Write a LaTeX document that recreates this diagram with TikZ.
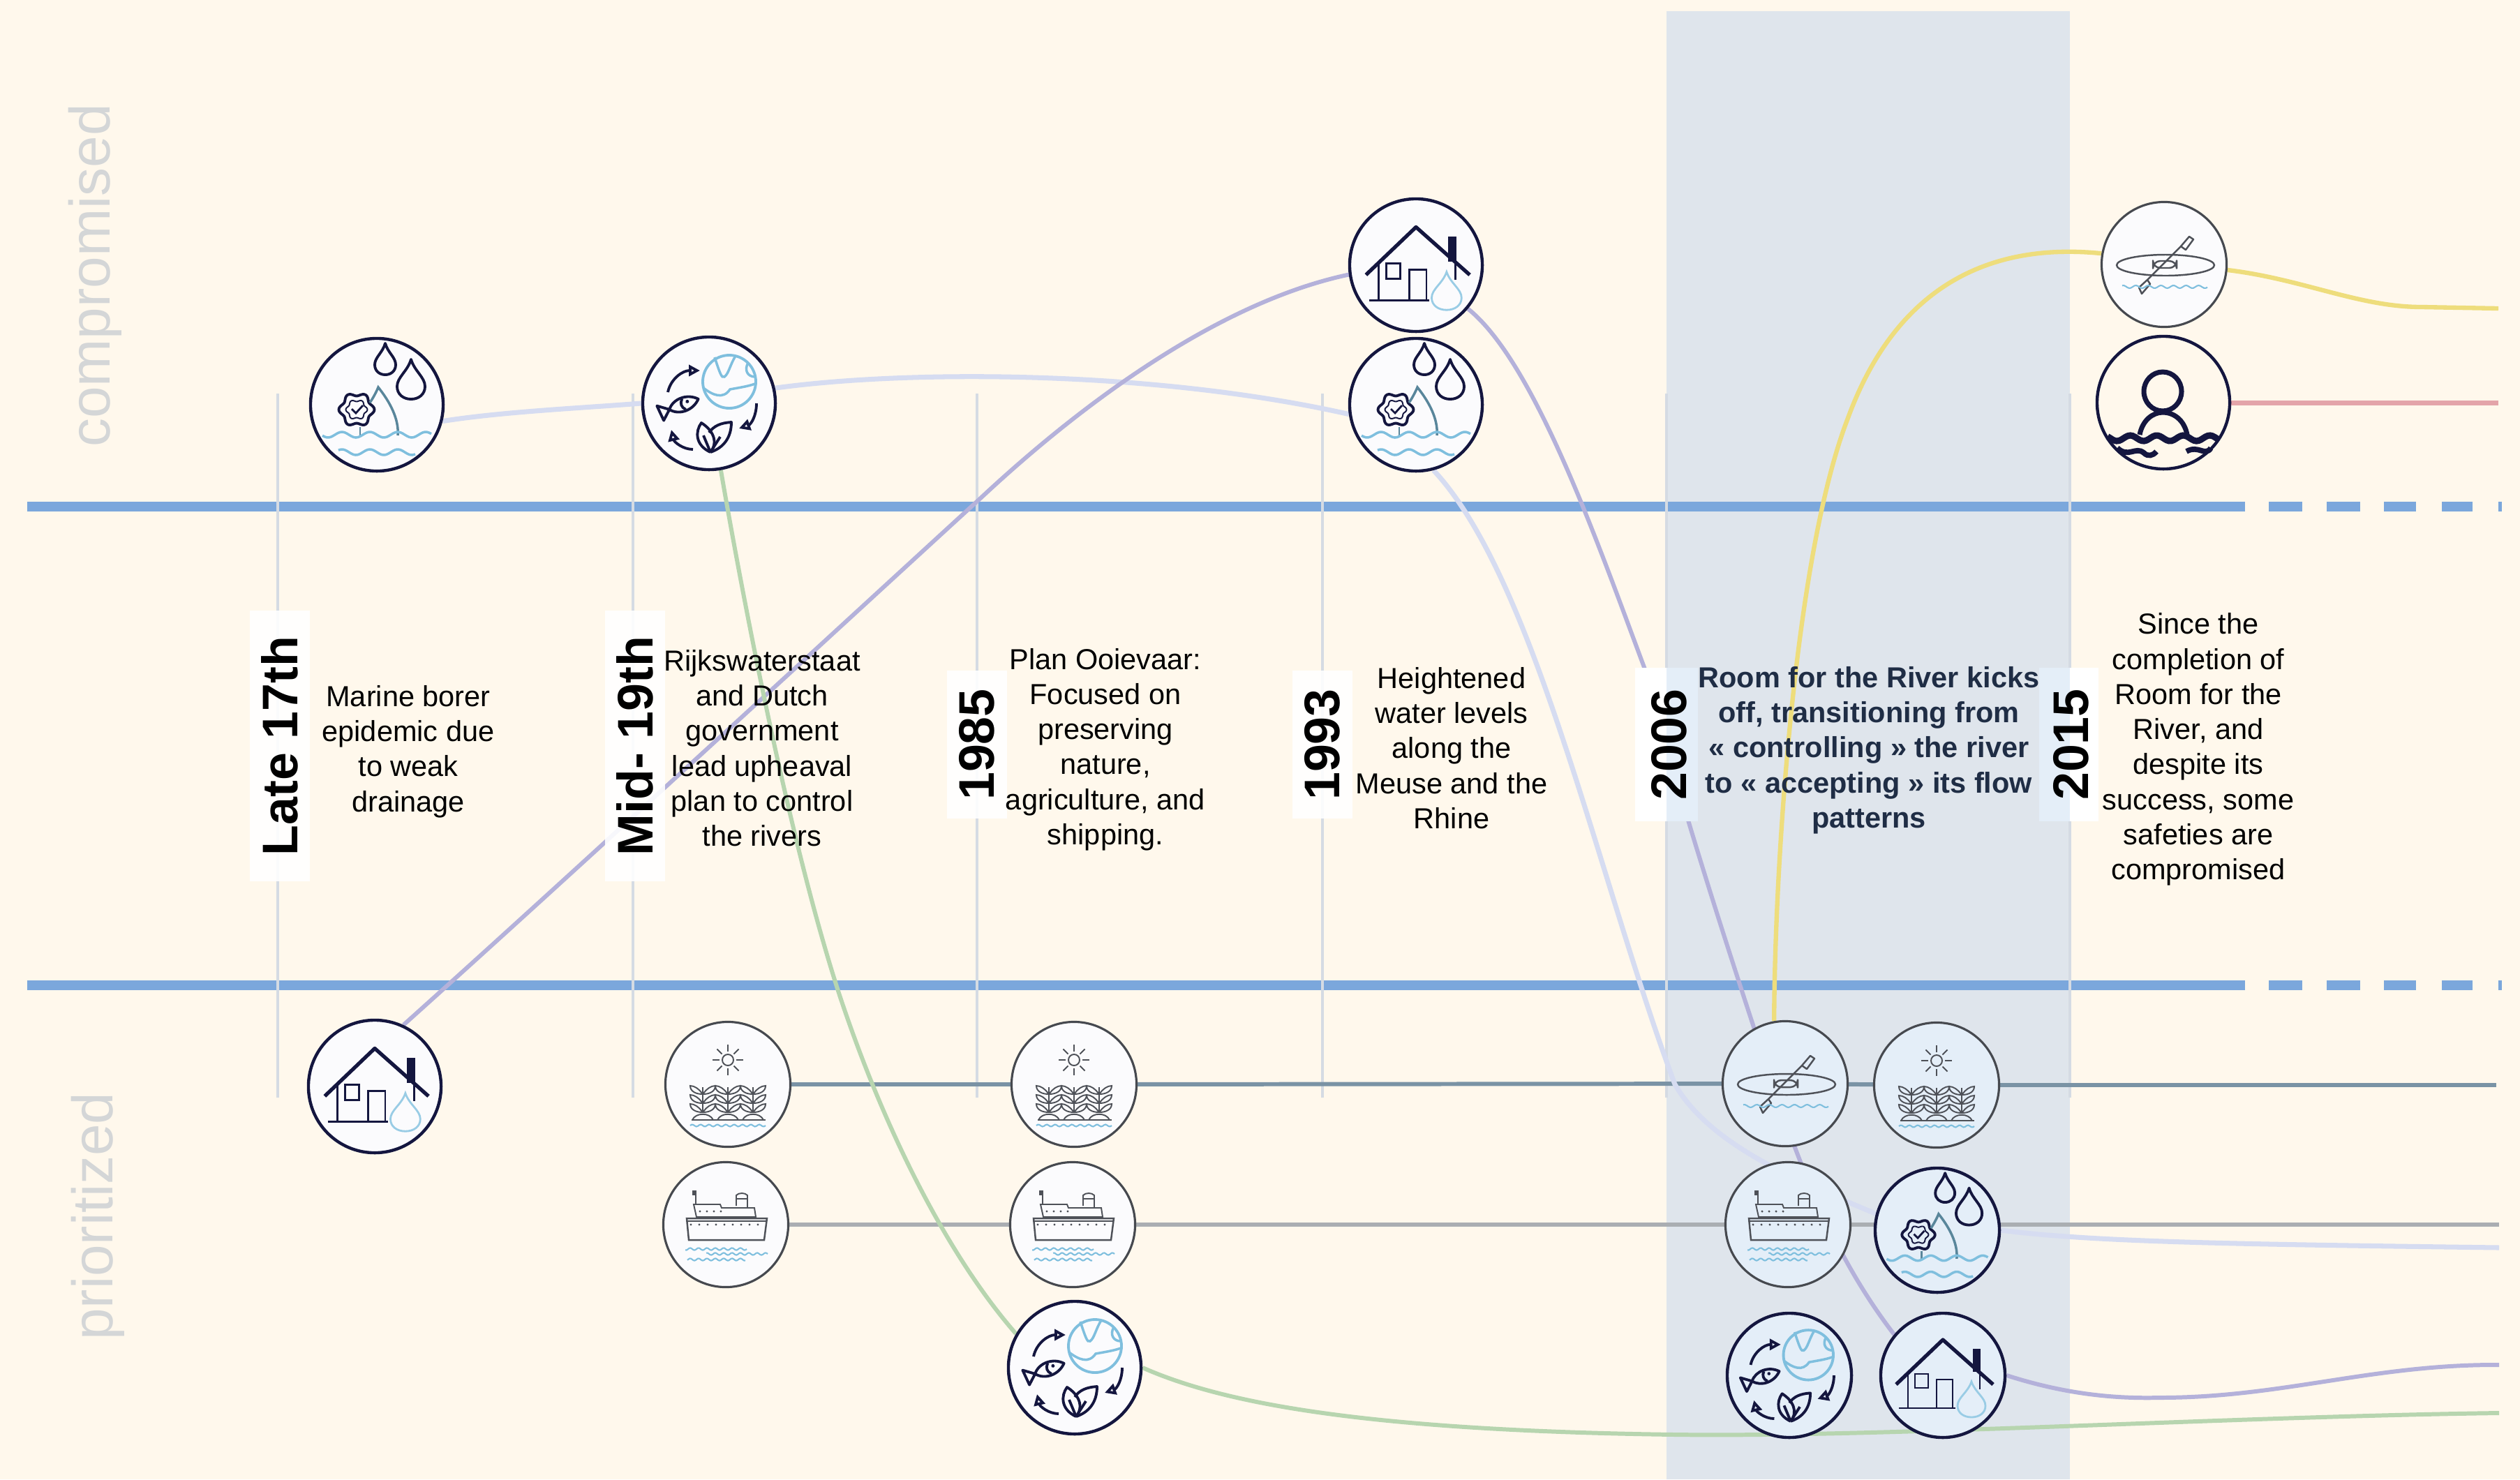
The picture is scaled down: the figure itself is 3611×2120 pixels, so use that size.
\documentclass[tikz,border=0pt]{standalone}
\usepackage{fontspec}
\setmainfont{Liberation Sans}
\usetikzlibrary{arrows.meta}
\definecolor{pagebg}{HTML}{FFF8EC}
\definecolor{bandc}{HTML}{DFE5EC}
\definecolor{bluel}{HTML}{7BA7DC}
\definecolor{vline}{HTML}{D5DBE3}
\definecolor{navy}{HTML}{14163F}
\definecolor{inkg}{HTML}{4E5158}
\definecolor{water}{HTML}{7FBFDE}
\definecolor{rosec}{HTML}{D6DCF1}
\definecolor{purplec}{HTML}{B4B1DA}
\definecolor{greenc}{HTML}{B7D5AF}
\definecolor{yellowc}{HTML}{EEDD7C}
\definecolor{redc}{HTML}{E3A4A9}
\definecolor{fieldc}{HTML}{7A93A5}
\definecolor{shipc}{HTML}{AAAEB2}
\definecolor{sidec}{HTML}{D4D6D7}
\definecolor{bandtext}{HTML}{1F2D45}
\definecolor{iconw}{HTML}{FBFBFD}
\definecolor{iconb}{HTML}{E4EEF8}
\colorlet{ink}{navy}
\pgfdeclarelayer{bandlayer}
\pgfdeclarelayer{lines}
\pgfsetlayers{bandlayer,lines,main}
\newcommand{\iwave}[6][]{\draw[#1] plot[domain=#2:#3,samples=50,smooth] (\x,{#4+#5*sin(360*(\x/#6))});}
\newcommand{\idrop}[5][]{\draw[#1] (#2,#3) .. controls ({#2-.25*#5},{#3+.3*(#4-#3)}) and ({#2-#5},{#3+.45*(#4-#3)}) .. ({#2-#5},{#3+.68*(#4-#3)})
  .. controls ({#2-#5},{#3+.88*(#4-#3)}) and ({#2-.55*#5},#4) .. (#2,#4)
  .. controls ({#2+.55*#5},#4) and ({#2+#5},{#3+.88*(#4-#3)}) .. ({#2+#5},{#3+.68*(#4-#3)})
  .. controls ({#2+#5},{#3+.45*(#4-#3)}) and ({#2+.25*#5},{#3+.3*(#4-#3)}) .. (#2,#3) -- cycle;}
\newcommand{\iplant}[1]{\begin{scope}[shift={(#1,0)}]
  \draw[thinink] (0,4) -- (0,40);
  \draw[thinink] (-15,51) .. controls (-10,40) and (10,40) .. (15,51);
  \foreach \yy in {2,15,28}{
    \draw[thinink] (0,\yy+12) .. controls (-6,\yy+4) and (-12,\yy) .. (-18,\yy) .. controls (-18,\yy+8) and (-10,\yy+12) .. (0,\yy+12);
    \draw[thinink] (0,\yy+12) .. controls (6,\yy+4) and (12,\yy) .. (18,\yy) .. controls (18,\yy+8) and (10,\yy+12) .. (0,\yy+12);
  }
\end{scope}}
\tikzset{
  x=0.01cm, y=-0.01cm,
  inkgrey/.code={\colorlet{ink}{inkg}},
  icon/.style={circle,inner sep=0pt,minimum size=1.9cm,draw=navy,line width=1.25pt,fill=#1},
  icon/.default={iconw},
  iconthin/.style={circle,inner sep=0pt,minimum size=1.79cm,draw=inkg!90!black,line width=.9pt,fill=#1},
  iconthin/.default={iconw},
  thinink/.style={draw=ink,line width=.55pt},
  midink/.style={draw=ink,line width=1.1pt,line join=round},
  waterl/.style={draw=water,line width=1pt},
  waterthin/.style={draw=water,line width=.6pt},
  rosel/.style={draw=rosec,line width=2pt},
  purplel/.style={draw=purplec,line width=1.7pt},
  greenl/.style={draw=greenc,line width=1.7pt},
  yellowl/.style={draw=yellowc,line width=1.8pt},
  redl/.style={draw=redc,line width=2pt},
  fieldl/.style={draw=fieldc,line width=1.7pt},
  shipl/.style={draw=shipc,line width=1.5pt},
  blueline/.style={draw=bluel,line width=4pt},
  timeline/.style={draw=vline,line width=.9pt},
  yearbox/.style={rotate=90,fill=white,fill opacity=.9,text opacity=1,font=\fontsize{20.4}{24}\selectfont\bfseries,text=black,inner sep=0pt,minimum height=.86cm,minimum width=#1},
  yeartext/.style={rotate=90,font=\fontsize{20.4}{24}\selectfont\bfseries,text=black,inner sep=0pt},
  caption/.style={align=center,text=black,font=\fontsize{11.8}{14.3}\selectfont,inner sep=0pt},
  bandcaption/.style={align=center,text=bandtext,font=\fontsize{11.8}{14.3}\selectfont\bfseries,inner sep=0pt},
  sidelabel/.style={rotate=90,text=sidec,font=\fontsize{23.3}{28}\selectfont,inner sep=0pt},
  pics/rosepic/.style={code={
    \idrop[midink]{12}{-88}{-43}{15}
    \idrop[midink]{49}{-65}{-8}{20}
    \draw[midink] plot[domain=0:360,samples=73] ({(23+2.5*cos(6*\x))*cos(\x)-29},{(22+2.5*cos(6*\x))*sin(\x)+7}) -- cycle;
    \draw[thinink] plot[domain=0:360,samples=73] ({(14+1.5*cos(6*\x))*cos(\x)-29},{(13+1.5*cos(6*\x))*sin(\x)+7}) -- cycle;
    \draw[thinink,line width=.8pt] (-36,6) -- (-30,12) -- (-20,1);
    \draw[draw=water!70!black,line width=.8pt] (-24,32) -- (-24,44);
    \draw[draw=water!70!black,line width=1pt] (-10,-3) .. controls (-5,-10) and (0,-20) .. (2,-25) .. controls (18,-5) and (32,20) .. (30,44);
    \iwave[waterl]{-78}{78}{43}{4}{40}
    \iwave[waterl]{-55}{55}{68}{4}{40}
  }},
  pics/ecopic/.style={code={
    \draw[waterl,line width=1.1pt] (29,-31) circle (38);
    \draw[waterl] (8,-66) .. controls (15,-45) and (18,-35) .. (22,-38) .. controls (28,-42) and (30,-55) .. (38,-68);
    \draw[waterl] (-8,-22) .. controls (5,-12) and (20,-5) .. (30,-20) .. controls (40,-22) and (55,-24) .. (66,-28);
    \draw[waterl] (56,-58) .. controls (50,-48) and (55,-38) .. (66,-38);
    \draw[midink,-{Triangle[open,length=.16cm,width=.16cm]}] (-59,-16) .. controls (-55,-35) and (-38,-47) .. (-13,-47);
    \draw[midink,-{Triangle[open,length=.16cm,width=.16cm]}] (68,0) .. controls (68,18) and (60,30) .. (43,36);
    \draw[midink,-{Triangle[open,length=.16cm,width=.16cm]}] (-23,66) .. controls (-38,66) and (-50,55) .. (-54,38);
    \begin{scope}[shift={(-38,2)},rotate=20]
      \draw[midink] (-20,0) .. controls (-10,-13) and (12,-13) .. (24,0) .. controls (12,13) and (-10,13) .. (-20,0);
      \draw[midink] (-20,0) -- (-35,-11) -- (-33,12) -- cycle;
      \draw[midink] (2,-8) .. controls (-3,-3) and (-3,3) .. (2,8);
      \fill[ink] (8,-2) circle (2.5);
    \end{scope}
    \begin{scope}[shift={(2,70)}]
      \draw[midink] (0,0) .. controls (-22,-10) and (-22,-30) .. (-13,-42) .. controls (3,-32) and (12,-15) .. (0,0);
      \draw[midink] (0,0) .. controls (18,-6) and (30,-20) .. (30,-43) .. controls (15,-42) and (5,-38) .. (-2,-28);
      \draw[midink] (0,0) -- (-10,-24);
      \draw[midink] (0,0) -- (14,-22);
    \end{scope}
  }},
  pics/fieldpic/.style={code={
    \draw[thinink] (0,-35) circle (8);
    \foreach \a in {0,45,...,315}{\draw[thinink] (\a:12) ++(0,-35) -- ++(\a:10);}
    \iplant{-36}\iplant{0}\iplant{36}
    \draw[thinink] (-52,51) -- (54,51);
    \iwave[waterthin]{-54}{54}{59}{1.5}{12}
  }},
  pics/shippic/.style={code={
    \draw[thinink,line width=.7pt] (-56,-9) -- (59,-9) -- (55,22) -- (-53,22) -- cycle;
    \draw[thinink] (-56,-5) -- (59,-5);
    \draw[thinink] (-46,-29) -- (-8,-29) -- (-6,-24) -- (41,-24) -- (43,-11) -- (-42,-11) -- cycle;
    \draw[thinink] (15,-27) -- (15,-42) .. controls (18,-46) and (28,-46) .. (31,-42) -- (31,-24);
    \draw[thinink] (15,-37) -- (31,-37);
    \draw[thinink] (-43,-29) -- (-43,-49);
    \fill[ink] (-48,-49) rectangle (-42,-42);
    \foreach \xx in {-50,-38,...,50}{\fill[ink] (\xx,0) circle (1.7);}
    \foreach \xx in {-37,-27,-17,-7}{\fill[ink] (\xx,-19) circle (1.7);}
    \iwave[waterthin]{-58}{30}{35}{1.6}{12}
    \iwave[waterthin]{-28}{60}{42}{1.6}{12}
    \iwave[waterthin]{-55}{28}{50}{1.6}{12}
  }},
  pics/kayakpic/.style={code={
    \draw[midink,line width=.7pt] (2,1) ellipse (70 and 15);
    \draw[midink,line width=.7pt,rounded corners=3pt] (-16,-5) rectangle (18,5);
    \draw[midink,line width=.7pt] (24,-26) -- (-24,22);
    \draw[midink,line width=.7pt] (24,-26) -- (36,-40) -- (42,-36) -- (31,-21) -- cycle;
    \draw[midink,line width=.7pt] (-24,22) -- (-36,33) -- (-32,42) -- (-20,28) -- cycle;
    \iwave[waterthin]{-60}{62}{32}{2}{18}
  }},
  pics/personpic/.style={code={
    \draw[draw=ink,line width=2pt] (-1,-16) ellipse (27 and 28);
    \draw[draw=ink,line width=2pt] (-34,46) .. controls (-30,25) and (-15,14) .. (-1,14) .. controls (15,14) and (30,25) .. (34,46);
    \iwave[draw=ink,line width=2.6pt]{-80}{80}{51}{4}{38}
    \draw[draw=ink,line width=2.2pt] (-66,65) .. controls (-50,80) and (-40,62) .. (-28,72) .. controls (-22,78) and (-15,76) .. (-10,70);
    \draw[draw=ink,line width=2.2pt] (68,65) .. controls (60,78) and (50,60) .. (33,70);
  }},
  pics/housepic/.style={code={
    \draw[draw=ink,line width=1.5pt,line join=round] (-67,13) -- (0,-51) -- (72,13);
    \fill[ink] (43,-38) rectangle (54,-5);
    \draw[thinink,line width=.8pt] (-50,-2) -- (-50,47);
    \draw[thinink,line width=.8pt] (53,-2) -- (53,20);
    \draw[thinink,line width=.8pt] (-63,47) -- (18,47);
    \draw[thinink,line width=.8pt] (-40,-2) rectangle (-21,18);
    \draw[thinink,line width=.8pt] (-9,47) -- (-9,6) -- (14,6) -- (14,47);
    \idrop[draw=water!80,line width=.8pt]{41}{9}{60}{20}
  }},
}
\begin{document}
\begin{tikzpicture}[x=0.01cm,y=-0.01cm]
\useasboundingbox (0,0) rectangle (3611,2120);

% icons
\node[icon] (rose1) at (540,580) {};
\node[icon] (eco1) at (1016,578) {};
\node[icon] (house1) at (537,1557) {};
\node[icon] (house2) at (2029,380) {};
\node[icon] (rose2) at (2029,580) {};
\node[iconthin] (field1) at (1043,1554) {};
\node[iconthin] (field2) at (1539,1554) {};
\node[iconthin] (ship1) at (1040,1755) {};
\node[iconthin] (ship2) at (1537,1755) {};
\node[icon] (eco2) at (1540,1960) {};
\node[iconthin=iconb] (kayak1) at (2558,1553) {};
\node[iconthin=iconb] (field3) at (2775,1555) {};
\node[iconthin=iconb] (ship3) at (2562,1755) {};
\node[icon=iconb,minimum size=1.78cm] (rose3) at (2776,1763) {};
\node[icon=iconb,minimum size=1.78cm] (eco3) at (2564,1971) {};
\node[icon=iconb,minimum size=1.78cm] (house3) at (2784,1971) {};
\node[iconthin] (kayak2) at (3101,379) {};
\node[icon=pagebg] (person) at (3100,577) {};

\pic at (rose1) {rosepic};
\pic at (eco1) {ecopic};
\pic[scale=1.07] at (house1) {housepic};
\pic[scale=1.07] at (house2) {housepic};
\pic at (rose2) {rosepic};
\pic[inkgrey] at (field1) {fieldpic};
\pic[inkgrey] at (field2) {fieldpic};
\pic[inkgrey] at (ship1) {shippic};
\pic[inkgrey] at (ship2) {shippic};
\pic at (eco2) {ecopic};
\pic[inkgrey] at (kayak1) {kayakpic};
\pic[inkgrey] at (field3) {fieldpic};
\pic[inkgrey] at (ship3) {shippic};
\pic[scale=.93] at (rose3) {rosepic};
\pic[scale=.94] at (eco3) {ecopic};
\pic at (house3) {housepic};
\pic[inkgrey] at (kayak2) {kayakpic};
\pic at (person) {personpic};

% free ends
\coordinate (roseend) at (3581,1788);
\coordinate (purpleend) at (3581,1956);
\coordinate (greenend) at (3581,2025);
\coordinate (yellowend) at (3580,442);
\coordinate (redend) at (3580,577);
\coordinate (fieldend) at (3577,1555);
\coordinate (shipend) at (3581,1755);

\begin{pgfonlayer}{bandlayer}
  \fill[pagebg] (0,0) rectangle (3611,2120);
  \fill[bandc] (2388,16) rectangle (2966,2120);
\end{pgfonlayer}

\begin{pgfonlayer}{lines}
  \draw[blueline] (39,726) -- (3217,726);
  \draw[blueline] (39,1412) -- (3217,1412);
  \foreach \yy in {726,1412}{
    \draw[blueline] (3251,\yy) -- (3299,\yy);
    \draw[blueline] (3334,\yy) -- (3382,\yy);
    \draw[blueline] (3416,\yy) -- (3462,\yy);
    \draw[blueline] (3499,\yy) -- (3543,\yy);
    \draw[blueline] (3580,\yy) -- (3585,\yy);
  }
  \foreach \xx in {398,907,1400,1895,2388,2966}{
    \draw[timeline] (\xx,564) -- (\xx,1573);
  }
  \draw[fieldl] (field1) -- (field2);
  \draw[fieldl] (field2) -- (kayak1);
  \draw[fieldl] (kayak1) -- (field3);
  \draw[fieldl] (field3) -- (fieldend);
  \draw[shipl] (ship1) -- (ship2);
  \draw[shipl] (ship2) -- (ship3);
  \draw[shipl] (ship3) -- (shipend);
  \draw[rosel] (rose1.-14) .. controls (720,590) and (830,585) .. (eco1.180);
  \draw[rosel] (eco1.13) .. controls (1300,530) and (1650,530) .. (rose2.188);
  \draw[rosel] (rose2.-75) .. controls (2200,830) and (2290,1260) .. (2400,1554) .. controls (2450,1640) and (2570,1690) .. (rose3.165);
  \draw[rosel] (rose3.0) .. controls (3000,1780) and (3200,1783) .. (roseend);
  \draw[purplel] (house1.65) .. controls (800,1270) and (1180,920) .. (1405,714) .. controls (1570,560) and (1760,430) .. (house2.188);
  \draw[purplel] (house2.-40) .. controls (2200,520) and (2290,780) .. (2360,967) .. controls (2400,1120) and (2450,1280) .. (2512,1469) .. controls (2570,1650) and (2620,1790) .. (house3.140);
  \draw[purplel] (house3.0) .. controls (2950,1995) and (3020,2005) .. (3095,2003) .. controls (3270,2003) and (3400,1955) .. (purpleend);
  \draw[greenl] (eco1.-80) .. controls (1065,860) and (1130,1200) .. (1201,1420) .. controls (1260,1600) and (1350,1790) .. (eco2.150);
  \draw[greenl] (eco2.0) .. controls (1750,2010) and (1950,2050) .. (2400,2056) .. controls (2700,2060) and (3200,2030) .. (greenend);
  \draw[yellowl] (kayak1.100) .. controls (2543,1250) and (2570,800) .. (2648,599) .. controls (2710,430) and (2830,345) .. (kayak2.170);
  \draw[yellowl] (kayak2.-5) .. controls (3300,400) and (3380,440) .. (3470,440) -- (yellowend);
  \draw[redl] (person) -- (redend);
  % label panels straddling the band edges
  \fill[white] (2343,957) rectangle (2388,1177);
  \fill[iconb] (2388,957) rectangle (2433,1177);
  \fill[iconb] (2922,957) rectangle (2966,1177);
  \fill[white] (2966,957) rectangle (3007,1177);
\end{pgfonlayer}

% year labels
\node[yearbox=3.87cm] (y1) at (401,1069) {Late 17th};
\node[yearbox=3.87cm] (y2) at (910,1069) {Mid- 19th};
\node[yearbox=2.12cm] (y3) at (1400,1067) {1985};
\node[yearbox=2.12cm] (y4) at (1895,1067) {1993};
\node[yeartext] (y5) at (2392,1067) {2006};
\node[yeartext] (y6) at (2968,1067) {2015};

% captions
\node[caption] (t1) at (585,1077) {Marine borer\\epidemic due\\to weak\\drainage};
\node[caption] (t2) at (1092,1072) {Rijkswaterstaat\\and Dutch\\government\\lead upheaval\\plan to control\\the rivers};
\node[caption] (t3) at (1584,1074) {Plan Ooievaar:\\Focused on\\preserving\\nature,\\agriculture, and\\shipping.};
\node[caption] (t4) at (2080,1072) {Heightened\\water levels\\along the\\Meuse and the\\Rhine};
\node[bandcaption] (t5) at (2678,1075) {Room for the River kicks\\off, transitioning from\\« controlling » the river\\to « accepting » its flow\\patterns};
\node[caption] (t6) at (3150,1074) {Since the\\completion of\\Room for the\\River, and\\despite its\\success, some\\safeties are\\compromised};

\node[sidelabel] (s1) at (136,395) {compromised};
\node[sidelabel] (s2) at (140,1743) {prioritized};
\end{tikzpicture}
\end{document}
